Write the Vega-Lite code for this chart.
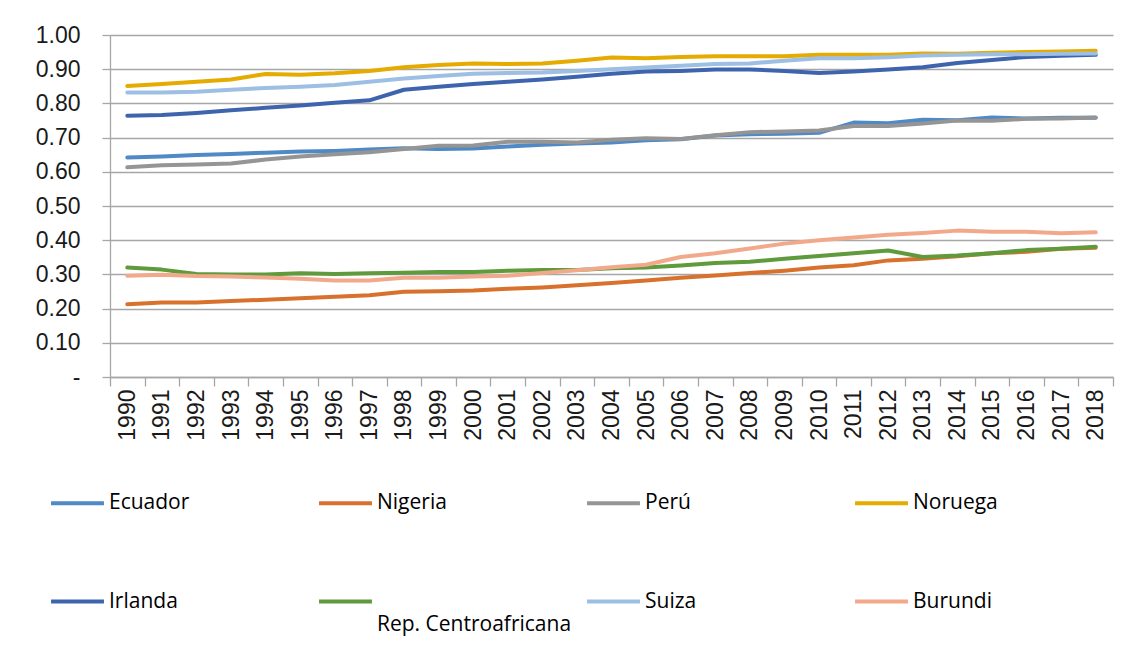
{
  "$schema": "https://vega.github.io/schema/vega-lite/v6.json",
  "width": 1003,
  "height": 342,
  "autosize": {"type": "none"},
  "padding": {"left": 110, "top": 35, "right": 22, "bottom": 289},
  "background": "white",
  "config": {
    "view": {"stroke": null},
    "axis": {"labelFont": "Liberation Sans", "labelFontSize": 23, "labelColor": "#1a1a1a", "domainColor": "#a6a6a6", "tickColor": "#a6a6a6", "gridColor": "#a6a6a6", "domainWidth": 1.3, "tickWidth": 1.3, "gridWidth": 1.3, "title": null}
  },
  "data": {"values": [
{"year":"1990","country":"Ecuador","value":0.642},{"year":"1991","country":"Ecuador","value":0.645},{"year":"1992","country":"Ecuador","value":0.649},{"year":"1993","country":"Ecuador","value":0.652},{"year":"1994","country":"Ecuador","value":0.656},{"year":"1995","country":"Ecuador","value":0.659},{"year":"1996","country":"Ecuador","value":0.661},{"year":"1997","country":"Ecuador","value":0.665},{"year":"1998","country":"Ecuador","value":0.669},{"year":"1999","country":"Ecuador","value":0.667},{"year":"2000","country":"Ecuador","value":0.668},{"year":"2001","country":"Ecuador","value":0.674},{"year":"2002","country":"Ecuador","value":0.679},{"year":"2003","country":"Ecuador","value":0.683},{"year":"2004","country":"Ecuador","value":0.686},{"year":"2005","country":"Ecuador","value":0.692},{"year":"2006","country":"Ecuador","value":0.695},{"year":"2007","country":"Ecuador","value":0.706},{"year":"2008","country":"Ecuador","value":0.710},{"year":"2009","country":"Ecuador","value":0.711},{"year":"2010","country":"Ecuador","value":0.714},{"year":"2011","country":"Ecuador","value":0.744},{"year":"2012","country":"Ecuador","value":0.742},{"year":"2013","country":"Ecuador","value":0.752},{"year":"2014","country":"Ecuador","value":0.751},{"year":"2015","country":"Ecuador","value":0.759},{"year":"2016","country":"Ecuador","value":0.756},{"year":"2017","country":"Ecuador","value":0.758},{"year":"2018","country":"Ecuador","value":0.758},
{"year":"1990","country":"Nigeria","value":0.213},{"year":"1991","country":"Nigeria","value":0.218},{"year":"1992","country":"Nigeria","value":0.218},{"year":"1993","country":"Nigeria","value":0.222},{"year":"1994","country":"Nigeria","value":0.226},{"year":"1995","country":"Nigeria","value":0.230},{"year":"1996","country":"Nigeria","value":0.235},{"year":"1997","country":"Nigeria","value":0.239},{"year":"1998","country":"Nigeria","value":0.249},{"year":"1999","country":"Nigeria","value":0.251},{"year":"2000","country":"Nigeria","value":0.253},{"year":"2001","country":"Nigeria","value":0.258},{"year":"2002","country":"Nigeria","value":0.262},{"year":"2003","country":"Nigeria","value":0.268},{"year":"2004","country":"Nigeria","value":0.275},{"year":"2005","country":"Nigeria","value":0.282},{"year":"2006","country":"Nigeria","value":0.290},{"year":"2007","country":"Nigeria","value":0.297},{"year":"2008","country":"Nigeria","value":0.304},{"year":"2009","country":"Nigeria","value":0.311},{"year":"2010","country":"Nigeria","value":0.320},{"year":"2011","country":"Nigeria","value":0.327},{"year":"2012","country":"Nigeria","value":0.341},{"year":"2013","country":"Nigeria","value":0.346},{"year":"2014","country":"Nigeria","value":0.353},{"year":"2015","country":"Nigeria","value":0.362},{"year":"2016","country":"Nigeria","value":0.366},{"year":"2017","country":"Nigeria","value":0.375},{"year":"2018","country":"Nigeria","value":0.378},
{"year":"1990","country":"Perú","value":0.613},{"year":"1991","country":"Perú","value":0.619},{"year":"1992","country":"Perú","value":0.621},{"year":"1993","country":"Perú","value":0.624},{"year":"1994","country":"Perú","value":0.636},{"year":"1995","country":"Perú","value":0.645},{"year":"1996","country":"Perú","value":0.651},{"year":"1997","country":"Perú","value":0.657},{"year":"1998","country":"Perú","value":0.667},{"year":"1999","country":"Perú","value":0.676},{"year":"2000","country":"Perú","value":0.677},{"year":"2001","country":"Perú","value":0.688},{"year":"2002","country":"Perú","value":0.688},{"year":"2003","country":"Perú","value":0.686},{"year":"2004","country":"Perú","value":0.694},{"year":"2005","country":"Perú","value":0.698},{"year":"2006","country":"Perú","value":0.696},{"year":"2007","country":"Perú","value":0.707},{"year":"2008","country":"Perú","value":0.716},{"year":"2009","country":"Perú","value":0.718},{"year":"2010","country":"Perú","value":0.721},{"year":"2011","country":"Perú","value":0.734},{"year":"2012","country":"Perú","value":0.734},{"year":"2013","country":"Perú","value":0.741},{"year":"2014","country":"Perú","value":0.750},{"year":"2015","country":"Perú","value":0.749},{"year":"2016","country":"Perú","value":0.755},{"year":"2017","country":"Perú","value":0.756},{"year":"2018","country":"Perú","value":0.759},
{"year":"1990","country":"Noruega","value":0.851},{"year":"1991","country":"Noruega","value":0.857},{"year":"1992","country":"Noruega","value":0.863},{"year":"1993","country":"Noruega","value":0.870},{"year":"1994","country":"Noruega","value":0.886},{"year":"1995","country":"Noruega","value":0.884},{"year":"1996","country":"Noruega","value":0.888},{"year":"1997","country":"Noruega","value":0.895},{"year":"1998","country":"Noruega","value":0.906},{"year":"1999","country":"Noruega","value":0.912},{"year":"2000","country":"Noruega","value":0.917},{"year":"2001","country":"Noruega","value":0.915},{"year":"2002","country":"Noruega","value":0.917},{"year":"2003","country":"Noruega","value":0.925},{"year":"2004","country":"Noruega","value":0.934},{"year":"2005","country":"Noruega","value":0.932},{"year":"2006","country":"Noruega","value":0.936},{"year":"2007","country":"Noruega","value":0.938},{"year":"2008","country":"Noruega","value":0.938},{"year":"2009","country":"Noruega","value":0.938},{"year":"2010","country":"Noruega","value":0.942},{"year":"2011","country":"Noruega","value":0.942},{"year":"2012","country":"Noruega","value":0.942},{"year":"2013","country":"Noruega","value":0.946},{"year":"2014","country":"Noruega","value":0.945},{"year":"2015","country":"Noruega","value":0.948},{"year":"2016","country":"Noruega","value":0.950},{"year":"2017","country":"Noruega","value":0.952},{"year":"2018","country":"Noruega","value":0.954},
{"year":"1990","country":"Irlanda","value":0.764},{"year":"1991","country":"Irlanda","value":0.766},{"year":"1992","country":"Irlanda","value":0.772},{"year":"1993","country":"Irlanda","value":0.780},{"year":"1994","country":"Irlanda","value":0.787},{"year":"1995","country":"Irlanda","value":0.794},{"year":"1996","country":"Irlanda","value":0.802},{"year":"1997","country":"Irlanda","value":0.809},{"year":"1998","country":"Irlanda","value":0.840},{"year":"1999","country":"Irlanda","value":0.849},{"year":"2000","country":"Irlanda","value":0.857},{"year":"2001","country":"Irlanda","value":0.863},{"year":"2002","country":"Irlanda","value":0.870},{"year":"2003","country":"Irlanda","value":0.878},{"year":"2004","country":"Irlanda","value":0.887},{"year":"2005","country":"Irlanda","value":0.893},{"year":"2006","country":"Irlanda","value":0.895},{"year":"2007","country":"Irlanda","value":0.899},{"year":"2008","country":"Irlanda","value":0.899},{"year":"2009","country":"Irlanda","value":0.895},{"year":"2010","country":"Irlanda","value":0.889},{"year":"2011","country":"Irlanda","value":0.893},{"year":"2012","country":"Irlanda","value":0.899},{"year":"2013","country":"Irlanda","value":0.906},{"year":"2014","country":"Irlanda","value":0.918},{"year":"2015","country":"Irlanda","value":0.927},{"year":"2016","country":"Irlanda","value":0.936},{"year":"2017","country":"Irlanda","value":0.939},{"year":"2018","country":"Irlanda","value":0.942},
{"year":"1990","country":"Rep. Centroafricana","value":0.320},{"year":"1991","country":"Rep. Centroafricana","value":0.314},{"year":"1992","country":"Rep. Centroafricana","value":0.301},{"year":"1993","country":"Rep. Centroafricana","value":0.300},{"year":"1994","country":"Rep. Centroafricana","value":0.300},{"year":"1995","country":"Rep. Centroafricana","value":0.303},{"year":"1996","country":"Rep. Centroafricana","value":0.301},{"year":"1997","country":"Rep. Centroafricana","value":0.303},{"year":"1998","country":"Rep. Centroafricana","value":0.305},{"year":"1999","country":"Rep. Centroafricana","value":0.307},{"year":"2000","country":"Rep. Centroafricana","value":0.307},{"year":"2001","country":"Rep. Centroafricana","value":0.311},{"year":"2002","country":"Rep. Centroafricana","value":0.313},{"year":"2003","country":"Rep. Centroafricana","value":0.313},{"year":"2004","country":"Rep. Centroafricana","value":0.318},{"year":"2005","country":"Rep. Centroafricana","value":0.320},{"year":"2006","country":"Rep. Centroafricana","value":0.326},{"year":"2007","country":"Rep. Centroafricana","value":0.333},{"year":"2008","country":"Rep. Centroafricana","value":0.337},{"year":"2009","country":"Rep. Centroafricana","value":0.346},{"year":"2010","country":"Rep. Centroafricana","value":0.354},{"year":"2011","country":"Rep. Centroafricana","value":0.362},{"year":"2012","country":"Rep. Centroafricana","value":0.370},{"year":"2013","country":"Rep. Centroafricana","value":0.351},{"year":"2014","country":"Rep. Centroafricana","value":0.355},{"year":"2015","country":"Rep. Centroafricana","value":0.362},{"year":"2016","country":"Rep. Centroafricana","value":0.371},{"year":"2017","country":"Rep. Centroafricana","value":0.375},{"year":"2018","country":"Rep. Centroafricana","value":0.381},
{"year":"1990","country":"Suiza","value":0.832},{"year":"1991","country":"Suiza","value":0.832},{"year":"1992","country":"Suiza","value":0.834},{"year":"1993","country":"Suiza","value":0.840},{"year":"1994","country":"Suiza","value":0.845},{"year":"1995","country":"Suiza","value":0.849},{"year":"1996","country":"Suiza","value":0.854},{"year":"1997","country":"Suiza","value":0.863},{"year":"1998","country":"Suiza","value":0.873},{"year":"1999","country":"Suiza","value":0.880},{"year":"2000","country":"Suiza","value":0.887},{"year":"2001","country":"Suiza","value":0.889},{"year":"2002","country":"Suiza","value":0.890},{"year":"2003","country":"Suiza","value":0.895},{"year":"2004","country":"Suiza","value":0.900},{"year":"2005","country":"Suiza","value":0.905},{"year":"2006","country":"Suiza","value":0.910},{"year":"2007","country":"Suiza","value":0.915},{"year":"2008","country":"Suiza","value":0.917},{"year":"2009","country":"Suiza","value":0.925},{"year":"2010","country":"Suiza","value":0.932},{"year":"2011","country":"Suiza","value":0.932},{"year":"2012","country":"Suiza","value":0.935},{"year":"2013","country":"Suiza","value":0.940},{"year":"2014","country":"Suiza","value":0.942},{"year":"2015","country":"Suiza","value":0.944},{"year":"2016","country":"Suiza","value":0.944},{"year":"2017","country":"Suiza","value":0.945},{"year":"2018","country":"Suiza","value":0.946},
{"year":"1990","country":"Burundi","value":0.296},{"year":"1991","country":"Burundi","value":0.299},{"year":"1992","country":"Burundi","value":0.295},{"year":"1993","country":"Burundi","value":0.294},{"year":"1994","country":"Burundi","value":0.291},{"year":"1995","country":"Burundi","value":0.287},{"year":"1996","country":"Burundi","value":0.282},{"year":"1997","country":"Burundi","value":0.282},{"year":"1998","country":"Burundi","value":0.290},{"year":"1999","country":"Burundi","value":0.290},{"year":"2000","country":"Burundi","value":0.294},{"year":"2001","country":"Burundi","value":0.296},{"year":"2002","country":"Burundi","value":0.304},{"year":"2003","country":"Burundi","value":0.312},{"year":"2004","country":"Burundi","value":0.321},{"year":"2005","country":"Burundi","value":0.328},{"year":"2006","country":"Burundi","value":0.351},{"year":"2007","country":"Burundi","value":0.362},{"year":"2008","country":"Burundi","value":0.376},{"year":"2009","country":"Burundi","value":0.390},{"year":"2010","country":"Burundi","value":0.400},{"year":"2011","country":"Burundi","value":0.408},{"year":"2012","country":"Burundi","value":0.416},{"year":"2013","country":"Burundi","value":0.421},{"year":"2014","country":"Burundi","value":0.428},{"year":"2015","country":"Burundi","value":0.425},{"year":"2016","country":"Burundi","value":0.425},{"year":"2017","country":"Burundi","value":0.420},{"year":"2018","country":"Burundi","value":0.423}
  ]},
  "mark": {"type": "line", "strokeWidth": 4, "strokeCap": "round", "strokeJoin": "round"},
  "encoding": {
    "x": {
      "field": "year", "type": "ordinal",
      "scale": {"type": "band", "paddingInner": 0, "paddingOuter": 0},
      "axis": {"labelAngle": -90, "labelAlign": "right", "labelBaseline": "middle", "tickBand": "extent", "tickSize": 9, "labelPadding": 3, "grid": false, "domain": true}
    },
    "y": {
      "field": "value", "type": "quantitative",
      "scale": {"domain": [0, 1], "nice": false, "zero": true},
      "axis": {"values": [0, 0.1, 0.2, 0.3, 0.4, 0.5, 0.6, 0.7, 0.8, 0.9, 1.0], "labelExpr": "datum.value == 0 ? '-\u00a0\u00a0\u00a0' : format(datum.value, '.2f')", "tickSize": 8, "labelPadding": 22, "grid": true, "domain": true}
    },
    "color": {
      "field": "country", "type": "nominal",
      "scale": {
        "domain": ["Ecuador", "Nigeria", "Perú", "Noruega", "Irlanda", "Rep. Centroafricana", "Suiza", "Burundi"],
        "range": ["#4f89c6", "#d8712c", "#959595", "#e5ab00", "#3e64ae", "#5f9a3c", "#9cbfe3", "#f2a98b"]
      },
      "legend": {
        "orient": "none", "legendX": -61, "legendY": 428, "direction": "horizontal", "columns": 4,
        "gridAlign": "all", "columnPadding": 7, "rowPadding": 48, "title": null,
        "symbolType": "stroke", "symbolSize": 2800, "symbolStrokeWidth": 4,
        "labelFont": "Open Sans", "labelFontSize": 21, "labelColor": "#000000", "labelOffset": 3, "labelLimit": 400,
        "labelExpr": "datum.label == 'Rep. Centroafricana' ? ['', 'Rep. Centroafricana'] : datum.label"
      }
    }
  }
}
